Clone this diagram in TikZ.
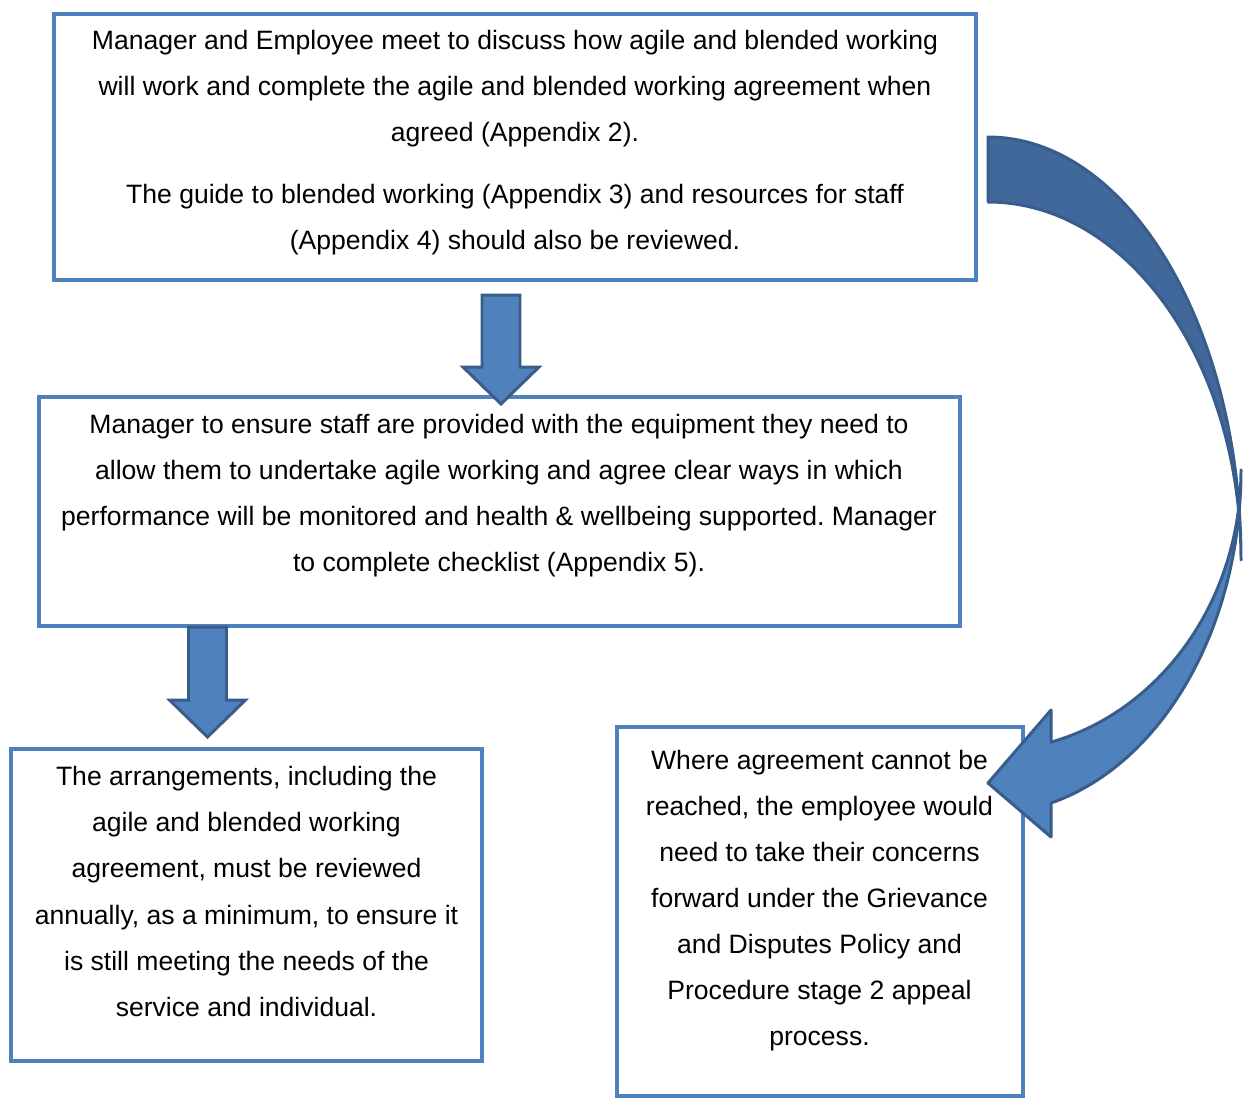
\documentclass[tikz,border=0pt]{standalone}
\usepackage{fontspec}
\setmainfont{Liberation Sans}
\frenchspacing
\definecolor{boxblue}{RGB}{79,129,189}
\definecolor{arrowedge}{RGB}{56,93,138}
\definecolor{backblue}{RGB}{64,104,154}
\tikzset{
  box/.style={draw=boxblue, line width=2pt, fill=white},
  boxtext/.style={align=center, inner sep=0pt, font=\fontsize{15.12pt}{26.2pt}\selectfont},
  blockarrow/.style={fill=boxblue, draw=arrowedge, line width=1.7pt, line join=miter}
}
% straight block arrow: x, top y, tip y
\newcommand{\blockdown}[3]{%
  \draw[blockarrow] (#1-19,#2) -- (#1+19,#2) -- (#1+19,#3-37) -- (#1+38,#3-37)
    -- (#1,#3) -- (#1-38,#3-37) -- (#1-19,#3-37) -- cycle;}
\begin{document}
\begin{tikzpicture}[x=0.02cm, y=-0.02cm]
  \useasboundingbox (0,0) rectangle (1251,1100);

  % boxes
  \node[box, minimum width=18.45cm, minimum height=5.33cm] (meetbox) at (515,147) {};
  \node[box, minimum width=18.43cm, minimum height=4.59cm] (kitbox) at (499.5,511.5) {};
  \node[box, minimum width=9.43cm, minimum height=6.25cm] (reviewbox) at (246.5,905) {};
  \node[box, minimum width=8.13cm, minimum height=7.39cm] (appealbox) at (820,911.5) {};

  % texts
  \node[boxtext] (meet) at (515,143) {Manager and Employee meet to discuss how agile and blended working\\
    will work and complete the agile and blended working agreement when\\
    agreed (Appendix 2).\\[9pt]
    The guide to blended working (Appendix 3) and resources for staff\\
    (Appendix 4) should also be reviewed.};
  \node[boxtext] (kit) at (499,496) {Manager to ensure staff are provided with the equipment they need to\\
    allow them to undertake agile working and agree clear ways in which\\
    performance will be monitored and health \& wellbeing supported. Manager\\
    to complete checklist (Appendix 5).};
  \node[boxtext] (review) at (246.5,891.5) {The arrangements, including the\\
    agile and blended working\\
    agreement, must be reviewed\\
    annually, as a minimum, to ensure it\\
    is still meeting the needs of the\\
    service and individual.};
  \node[boxtext] (appeal) at (819.5,900.5) {Where agreement cannot be\\
    reached, the employee would\\
    need to take their concerns\\
    forward under the Grievance\\
    and Disputes Policy and\\
    Procedure stage 2 appeal\\
    process.};

  % down arrows
  \blockdown{501}{295}{404}
  \blockdown{207.5}{627}{737}

  % curved arrow, back part then front part
  \coordinate (bendtop) at (988,137);
  \coordinate (bendtip) at (988,783);
  \draw[blockarrow, fill=backblue, line join=round] (bendtop)
    arc[start angle=-90, end angle=0, x radius=253, y radius=423]
    arc[start angle=0, end angle=-90, x radius=253, y radius=358]
    -- cycle;
  \draw[blockarrow, line join=round] (1241,470)
    arc[start angle=0, end angle=75.58, x radius=253, y radius=281]
    -- (1051,710) -- (bendtip) -- (1051,837) -- (1051,803)
    arc[start angle=75.58, end angle=0, x radius=253, y radius=344]
    -- cycle;
\end{tikzpicture}
\end{document}
